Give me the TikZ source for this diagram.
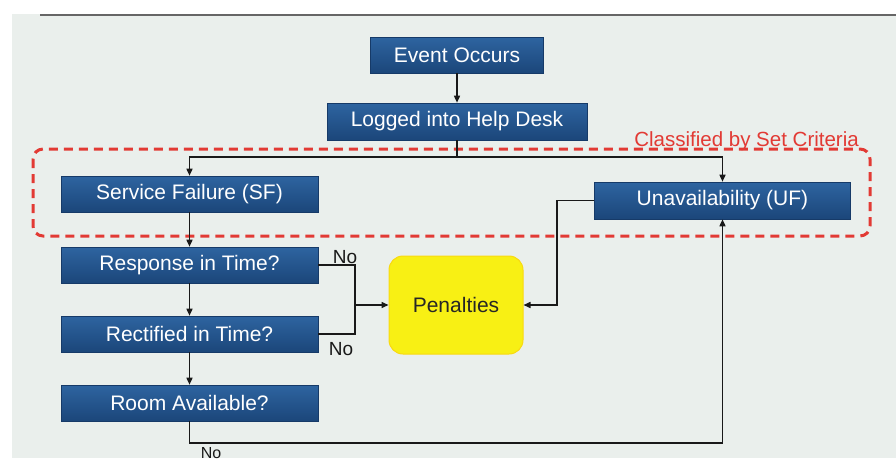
\documentclass[tikz,border=0pt]{standalone}
\usepackage{fontspec}
\setmainfont{Liberation Sans}
\usetikzlibrary{arrows.meta,calc}
\definecolor{bgc}{RGB}{234,239,236}
\definecolor{boxtop}{RGB}{46,100,160}
\definecolor{boxbot}{RGB}{27,70,122}
\definecolor{boxedge}{RGB}{22,58,104}
\definecolor{redc}{RGB}{226,58,52}
\definecolor{yel}{RGB}{248,240,20}
\tikzset{
  bluebox/.style={draw=boxedge, line width=0.6pt, top color=boxtop, bottom color=boxbot,
    text=white, font=\fontsize{21}{25}\selectfont, inner sep=0pt, anchor=center},
  penbox/.style={draw=yel!80!orange, line width=1pt, fill=yel, rounded corners=14pt,
    text=black!85, font=\fontsize{21}{25}\selectfont, inner sep=0pt, minimum width=134pt, minimum height=98pt},
  conn/.style={draw=black!90, line width=1.5pt},
  arr/.style={conn, -{Triangle[length=7pt,width=6pt]}},
  lab/.style={font=\fontsize{19}{22}\selectfont, text=black!90, inner sep=0pt},
  grp/.style={draw=redc, line width=3pt, dash pattern=on 9pt off 6pt, rounded corners=10pt},
}
\begin{document}
\begin{tikzpicture}[x=1pt,y=-1pt]
\useasboundingbox (0,0) rectangle (896,463);
\fill[white] (0,0) rectangle (896,463);
\fill[bgc] (12,14) rectangle (896,458);
\draw[black!60, line width=1.2pt] (40,15) -- (896,15);

% group
\draw[grp] (33,149) rectangle (870,236);
\node[text=redc, font=\fontsize{20.5}{24}\selectfont, inner sep=0pt, anchor=east] (cl) at (859,141) {Classified by Set Criteria};

% boxes
\node[bluebox, minimum width=173pt, minimum height=36pt] (ev) at (457,55) {Event Occurs};
\node[bluebox, minimum width=260pt, minimum height=37pt] (log) at (457,121.5) {Logged into Help Desk};
\node[bluebox, minimum width=257pt, minimum height=36pt] (sf) at (189.5,194) {Service Failure (SF)};
\node[bluebox, minimum width=256pt, minimum height=37pt] (uf) at (722.5,200.5) {Unavailability (UF)};
\node[bluebox, minimum width=257pt, minimum height=36pt] (rt) at (189.5,265) {Response in Time?};
\node[bluebox, minimum width=257pt, minimum height=36pt] (rc) at (189.5,334) {Rectified in Time?};
\node[bluebox, minimum width=257pt, minimum height=36pt] (ra) at (189.5,403) {Room Available?};
\node[penbox] (pen) at (456,305) {Penalties};

% connectors
\draw[arr] (ev) -- (log);
\coordinate (split) at (457,157);
\draw[conn] (log.south) -- (split);
\draw[arr] (split) -| (sf.north);
\draw[arr] (split) -| (uf.north);
\draw[arr] (sf) -- (rt);
\draw[arr] (rt) -- (rc);
\draw[arr] (rc) -- (ra);
\coordinate (j) at (355,305);
\draw[conn] (rt.east) -| (j) |- (rc.east);
\draw[arr] (j) -- (pen.west);
\coordinate (ufl) at (557,200.5);
\draw[arr] (uf.west) -- (ufl) |- (pen.east);
\coordinate (bot) at (189.5,443);
\draw[arr] (ra.south) -- (bot) -| (uf.south);

% labels
\node[lab] (no1) at (345,257) {No};
\node[lab] (no2) at (341,349) {No};
\node[lab, font=\fontsize{16}{18}\selectfont] (no3) at (211,453) {No};
\end{tikzpicture}
\end{document}
